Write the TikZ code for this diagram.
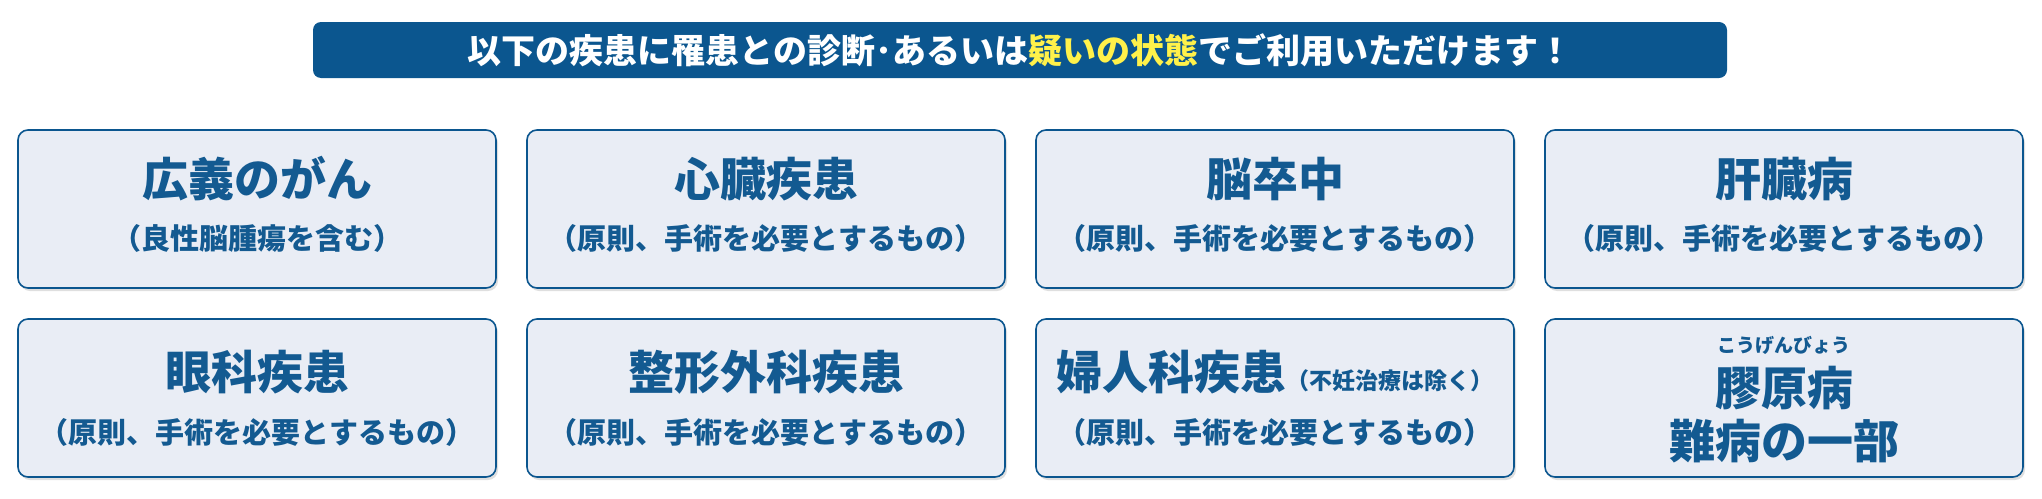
\documentclass[tikz,border=0pt]{standalone}
\usepackage{fontspec}
\setmainfont{Noto Sans CJK JP}
\usetikzlibrary{shadows}
\definecolor{navy}{HTML}{0B568F}
\definecolor{boxfill}{HTML}{E9EDF5}
\definecolor{txt}{HTML}{135A91}
\definecolor{yel}{HTML}{FFF14A}
\tikzset{
 card/.style={draw=navy,line width=1.6pt,fill=boxfill,rounded corners=10pt,minimum width=478pt,minimum height=158pt,drop shadow={shadow xshift=2pt,shadow yshift=-3pt,opacity=0.25}},
 ttl/.style={font=\fontsize{46}{50}\selectfont\bfseries,text=txt,inner sep=0pt},
 sub/.style={font=\fontsize{29}{32}\selectfont\bfseries,text=txt,inner sep=0pt},
}
\begin{document}
\begin{tikzpicture}[x=1pt,y=-1pt]
\useasboundingbox (0,0) rectangle (2042,498);
\node[fill=navy,rounded corners=8pt,minimum width=1414pt,minimum height=56pt,text=white,font=\fontsize{34}{36}\selectfont\bfseries] (banner) at (1020,50) {以下の疾患に罹患との診断･あるいは\textcolor{yel}{疑いの状態}でご利用いただけます！};
\foreach \n/\x/\y in {a/257/209,b/766/209,c/1275/209,d/1784/209,e/257/398,f/766/398,g/1275/398,h/1784/398}
  \node[card] (\n) at (\x,\y) {};
\node[ttl] (a1) at (257,179) {広義のがん};
\node[sub] (a2) at (257,238) {（良性脳腫瘍を含む）};
\node[ttl] (b1) at (766,179) {心臓疾患};
\node[sub] (b2) at (766,238) {（原則、手術を必要とするもの）};
\node[ttl] (c1) at (1275,179) {脳卒中};
\node[sub] (c2) at (1275,238) {（原則、手術を必要とするもの）};
\node[ttl] (d1) at (1784,179) {肝臓病};
\node[sub] (d2) at (1784,238) {（原則、手術を必要とするもの）};
\node[ttl] (e1) at (257,372) {眼科疾患};
\node[sub] (e2) at (257,432) {（原則、手術を必要とするもの）};
\node[ttl] (f1) at (766,372) {整形外科疾患};
\node[sub] (f2) at (766,432) {（原則、手術を必要とするもの）};
\node[ttl] (g1) at (1275,372) {婦人科疾患{\fontsize{23}{26}\selectfont （不妊治療は除く）}};
\node[sub] (g2) at (1275,432) {（原則、手術を必要とするもの）};
\node[font=\fontsize{19}{20}\selectfont\bfseries,text=txt,inner sep=0pt] (h0) at (1784,345) {こうげんびょう};
\node[ttl] (h1) at (1784,388) {膠原病};
\node[ttl] (h2) at (1784,441) {難病の一部};
\end{tikzpicture}
\end{document}
